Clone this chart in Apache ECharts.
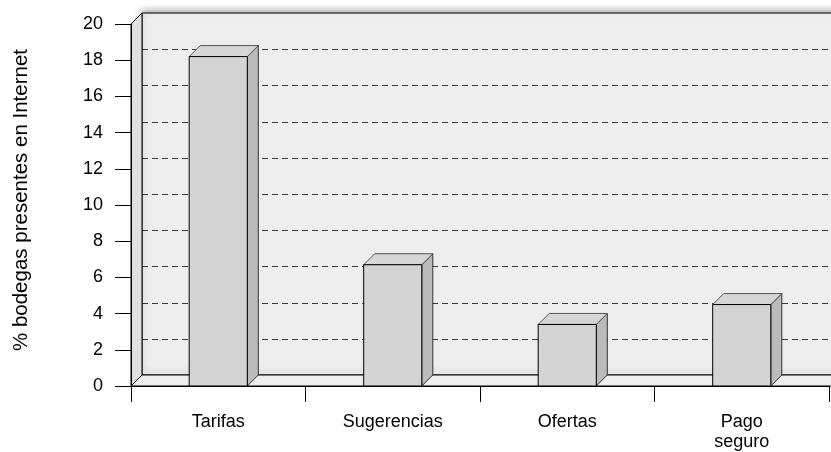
<!DOCTYPE html>
<html>
<head>
<meta charset="utf-8">
<script src="https://cdn.jsdelivr.net/npm/echarts@6/dist/echarts.min.js"></script>
<style>
html,body{margin:0;padding:0;background:#fff;}
#chart{width:831px;height:452px;}
</style>
</head>
<body>
<div id="chart"></div>
<script>
// ---- data ----
const categories = ['Tarifas', 'Sugerencias', 'Ofertas', 'Pago\nseguro'];
const values = [18.2, 6.7, 3.4, 4.5];
const yTicks = [0, 2, 4, 6, 8, 10, 12, 14, 16, 18, 20];
const yTitle = '% bodegas presentes en Internet';

// ---- style constants ----
const DEPTH = 11;          // 3D offset in px
const BAR_RATIO = 0.333;   // bar width / category width
const FONT = '"Liberation Sans", Arial, Helvetica, sans-serif';

const chart = echarts.init(document.getElementById('chart'), null, {renderer: 'canvas'});

function renderWalls(params, api) {
  const cs = params.coordSys;
  const gx = cs.x, gw = cs.width;
  const base = api.coord([0, yTicks[0]])[1];
  const top = api.coord([0, yTicks[yTicks.length - 1]])[1];
  const d = DEPTH;
  const children = [];
  // back wall
  children.push({
    type: 'rect',
    shape: {x: gx + d, y: top - d, width: gw + 40, height: base - top},
    style: {fill: '#eeeeee', stroke: '#000', lineWidth: 1,
            shadowBlur: 7, shadowColor: 'rgba(0,0,0,0.35)', shadowOffsetY: -2}
  });
  // gridlines on back wall
  for (let i = 1; i < yTicks.length - 1; i++) {
    const y = Math.round(api.coord([0, yTicks[i]])[1] - d) + 0.5;
    children.push({
      type: 'line',
      shape: {x1: gx + d, y1: y, x2: gx + gw + d + 40, y2: y},
      style: {stroke: '#3a3a3a', lineWidth: 1, lineDash: [6, 4]}
    });
  }
  // left side wall
  children.push({
    type: 'polygon',
    shape: {points: [[gx, top], [gx + d, top - d], [gx + d, base - d], [gx, base]]},
    style: {fill: '#e0e0e0', stroke: '#000', lineWidth: 1}
  });
  // floor
  children.push({
    type: 'polygon',
    shape: {points: [[gx, base], [gx + d, base - d], [gx + gw + d + 40, base - d], [gx + gw + 40, base]]},
    style: {fill: '#eeeeee', stroke: '#000', lineWidth: 1}
  });
  return {type: 'group', children: children};
}

function renderBar(params, api) {
  const idx = api.value(0);
  const val = api.value(1);
  const pTop = api.coord([idx, val]);
  const pBase = api.coord([idx, 0]);
  const catW = api.size([1, 0])[0];
  const bw = catW * BAR_RATIO;
  const d = DEPTH;
  const x = pTop[0] - bw / 2;
  const top = pTop[1];
  const base = pBase[1];
  return {
    type: 'group',
    children: [
      {
        type: 'polygon',
        shape: {points: [[x + bw, top], [x + bw + d, top - d], [x + bw + d, base - d], [x + bw, base]]},
        style: {fill: '#bbbbbb', stroke: '#333', lineWidth: 1}
      },
      {
        type: 'polygon',
        shape: {points: [[x, top], [x + d, top - d], [x + bw + d, top - d], [x + bw, top]]},
        style: {fill: '#d6d6d6', stroke: '#555', lineWidth: 1}
      },
      {
        type: 'rect',
        shape: {x: x, y: top, width: bw, height: base - top},
        style: {fill: '#d4d4d4', stroke: '#000', lineWidth: 1}
      }
    ]
  };
}

const option = {
  animation: false,
  backgroundColor: '#ffffff',
  textStyle: {fontFamily: FONT},
  grid: {left: 131, right: 2, top: 24, bottom: 65, containLabel: false},
  xAxis: {
    type: 'category',
    data: categories,
    boundaryGap: true,
    z: 10,
    axisLine: {lineStyle: {color: '#000', width: 1}},
    axisTick: {show: true, length: 16, interval: 0, lineStyle: {color: '#000', width: 1}},
    axisLabel: {
      interval: 0, margin: 26, color: '#000', fontSize: 18, fontFamily: FONT,
      lineHeight: 20, verticalAlign: 'top'
    },
    splitLine: {show: false}
  },
  yAxis: {
    type: 'value',
    min: yTicks[0],
    max: yTicks[yTicks.length - 1],
    interval: yTicks[1] - yTicks[0],
    z: 10,
    axisLine: {show: true, lineStyle: {color: '#000', width: 1}},
    axisTick: {show: true, length: 16, lineStyle: {color: '#000', width: 1}},
    axisLabel: {margin: 28, color: '#000', fontSize: 18, fontFamily: FONT},
    splitLine: {show: false}
  },
  graphic: [{
    type: 'text',
    x: 21, y: 200,
    rotation: Math.PI / 2,
    style: {
      text: yTitle, fill: '#000', font: '20.5px ' + FONT,
      align: 'center', verticalAlign: 'middle'
    }
  }],
  series: [
    {
      type: 'custom',
      z: 1,
      silent: true,
      renderItem: renderWalls,
      data: [[0, 0]],
      encode: {x: 0, y: 1},
      clip: false
    },
    {
      type: 'custom',
      z: 2,
      renderItem: renderBar,
      data: values.map((v, i) => [i, v]),
      encode: {x: 0, y: 1},
      clip: false
    }
  ]
};
chart.setOption(option);
</script>
</body>
</html>
